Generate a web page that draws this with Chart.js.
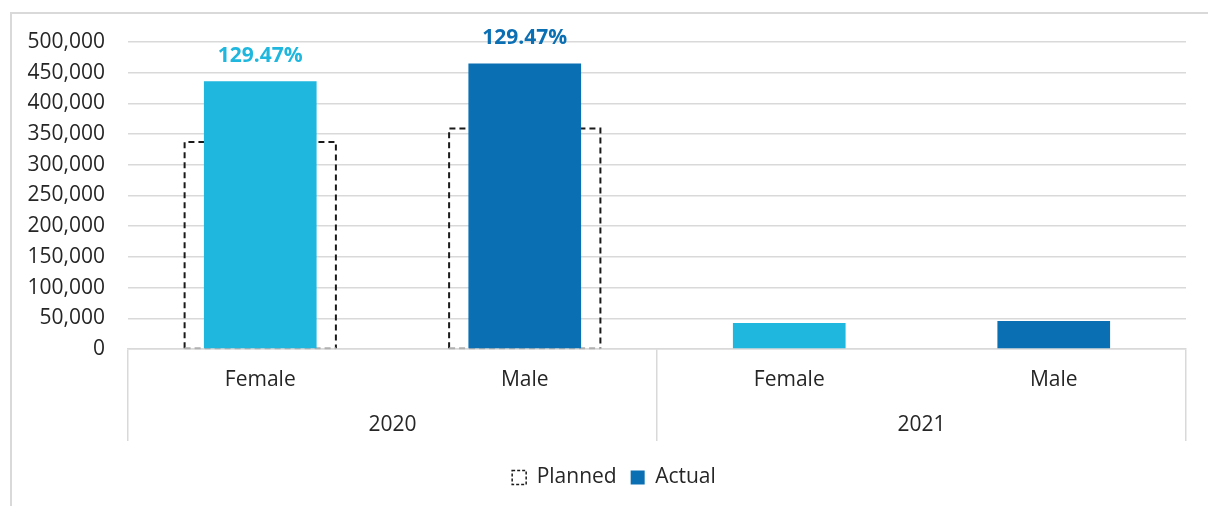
<!DOCTYPE html>
<html>
<head>
<meta charset="utf-8">
<script src="https://cdn.jsdelivr.net/npm/chart.js@4.4.1/dist/chart.umd.min.js"></script>
<style>
    html, body { margin: 0; padding: 0; background: #ffffff; }
    .frame {
        position: absolute; left: 10px; top: 12px; width: 1300px; height: 600px;
        border-left: 2px solid #d9d9d9; border-top: 2px solid #d9d9d9;
    }
    .chart-wrap { position: absolute; left: 0; top: 0; width: 1208px; height: 506px; }
</style>
</head>
<body>
<div class="frame"></div>
<div class="chart-wrap"><canvas id="planned-actual-chart"></canvas></div>
<script>
// Data
const categories = ['Female', 'Male', 'Female', 'Male'];
const years = ['2020', '2021'];
const plannedValues = [337000, 359000, null, null];
const actualValues = [436000, 465000, 42500, 45700];
const pctLabels = ['129.47%', '129.47%', '', ''];
const yMin = 0;
const yMax = 500000;
const yStep = 50000;

const LIGHT = '#1fb7de';
const DARK = '#0b6fb4';
const barColors = [LIGHT, DARK, LIGHT, DARK];
const GRID = '#d9d9d9';
const TEXT = '#262626';
const FONT = { family: '"Open Sans", "Noto Sans", sans-serif', size: 21 };

/**
 * Dashed outline for the planned bars (bar elements can't dash their borders)
 */
const dashedOutline = {
    id: 'dashedOutline',
    afterDatasetDraw(chart, args) {
        if (args.index !== 0) return;
        const ctx = chart.ctx;
        ctx.save();
        ctx.lineWidth = 2;
        ctx.setLineDash([6, 4]);
        args.meta.data.forEach((bar, i) => {
            if (plannedValues[i] == null) return;
            const { x, y, base, width } = bar.getProps(['x', 'y', 'base', 'width'], true);
            const l = x - width / 2;
            const r = x + width / 2;
            ctx.strokeStyle = '#1a1a1a';
            ctx.beginPath();
            ctx.moveTo(l, base);
            ctx.lineTo(l, y);
            ctx.lineTo(r, y);
            ctx.lineTo(r, base);
            ctx.stroke();
            ctx.strokeStyle = '#b0b0b0';
            ctx.beginPath();
            ctx.moveTo(l, base);
            ctx.lineTo(r, base);
            ctx.stroke();
        });
        ctx.restore();
    }
};

/**
 * Percentage labels above the actual bars
 */
const pctLabelPlugin = {
    id: 'pctLabels',
    afterDatasetsDraw(chart) {
        const meta = chart.getDatasetMeta(1);
        const ctx = chart.ctx;
        ctx.save();
        ctx.font = `bold ${FONT.size}px ${FONT.family}`;
        ctx.textAlign = 'center';
        ctx.textBaseline = 'middle';
        meta.data.forEach((bar, i) => {
            if (!pctLabels[i]) return;
            ctx.fillStyle = barColors[i];
            ctx.fillText(pctLabels[i], bar.x, bar.y - 25);
        });
        ctx.restore();
    }
};

/**
 * Legend is centred on the frame rather than the full canvas width
 */
const legendNudge = {
    id: 'legendNudge',
    afterLayout(chart) {
        if (chart.legend) chart.legend.left += 42;
    }
};

const ctx = document.getElementById('planned-actual-chart').getContext('2d');

new Chart(ctx, {
    type: 'bar',
    data: {
        labels: categories,
        datasets: [
            {
                label: 'Planned',
                data: plannedValues,
                backgroundColor: 'rgba(0,0,0,0)',
                borderWidth: 0,
                grouped: false,
                categoryPercentage: 1,
                barPercentage: 0.572,
                order: 2
            },
            {
                label: 'Actual',
                data: actualValues,
                backgroundColor: barColors,
                borderWidth: 0,
                grouped: false,
                categoryPercentage: 1,
                barPercentage: 0.426,
                order: 1
            }
        ]
    },
    options: {
        responsive: true,
        maintainAspectRatio: false,
        animation: false,
        layout: { padding: { top: 42, right: 22, bottom: 8, left: 0 } },
        plugins: {
            tooltip: { enabled: false },
            legend: {
                position: 'bottom',
                labels: {
                    font: FONT,
                    color: TEXT,
                    boxWidth: 14,
                    boxHeight: 14,
                    padding: 14,
                    generateLabels: () => [
                        { text: 'Planned', fillStyle: '#ffffff', strokeStyle: '#1a1a1a', lineWidth: 1.5, lineDash: [3, 2], fontColor: TEXT, hidden: false, datasetIndex: 0 },
                        { text: 'Actual', fillStyle: DARK, strokeStyle: DARK, lineWidth: 0, fontColor: TEXT, hidden: false, datasetIndex: 1 }
                    ]
                }
            }
        },
        scales: {
            y: {
                min: yMin,
                max: yMax,
                grid: { color: GRID, lineWidth: 1.5, drawTicks: false },
                border: { display: false },
                ticks: {
                    stepSize: yStep,
                    padding: 23,
                    font: FONT,
                    color: TEXT,
                    callback: (val) => Number(val).toLocaleString('en-US')
                },
                afterFit: (s) => { s.width = 128; }
            },
            x: {
                grid: {
                    offset: true,
                    drawOnChartArea: false,
                    drawTicks: true,
                    tickLength: 46,
                    lineWidth: 1.5,
                    // only the group boundaries get a separator
                    color: (c) => (c.index === 1 || c.index === 3) ? 'rgba(0,0,0,0)' : GRID
                },
                border: { display: true, color: GRID, width: 1.5 },
                ticks: { padding: -28, font: FONT, color: TEXT, maxRotation: 0 },
                afterFit: (s) => { s.height = 46; }
            },
            x2: {
                type: 'category',
                labels: years,
                position: 'bottom',
                offset: true,
                grid: {
                    offset: true,
                    drawOnChartArea: false,
                    drawTicks: true,
                    tickLength: 46,
                    lineWidth: 1.5,
                    color: GRID
                },
                border: { display: false },
                ticks: { padding: -29, font: FONT, color: TEXT, maxRotation: 0 },
                afterFit: (s) => { s.height = 58; }
            }
        }
    },
    plugins: [dashedOutline, pctLabelPlugin, legendNudge]
});
</script>
</body>
</html>
